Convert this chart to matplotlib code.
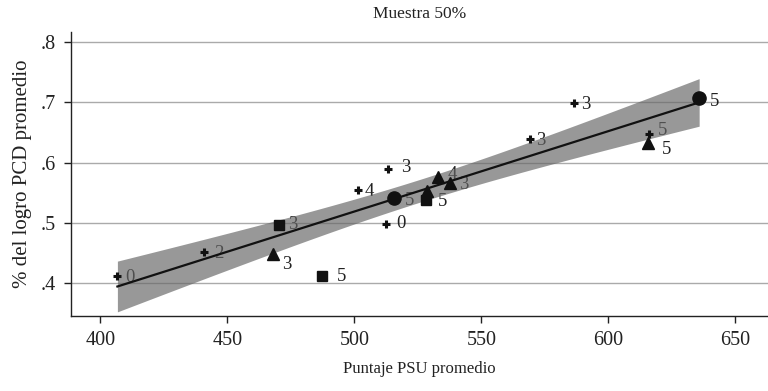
import numpy as np
import matplotlib
matplotlib.use("Agg")
import matplotlib.pyplot as plt

plt.rcParams['font.family'] = ['Liberation Serif', 'DejaVu Serif']

# Data: (PSU score, PCD achievement, marker group, label)
cross_x = [406.7, 440.8, 501.5, 513.1, 512.3, 569.1, 586.6, 616.0]
cross_y = [0.412, 0.452, 0.554, 0.589, 0.499, 0.639, 0.698, 0.648]
cross_lab = ["0", "2", "4", "3", "0", "3", "3", "5"]

tri_x = [467.8, 533.0, 537.6, 528.7, 615.7]
tri_y = [0.448, 0.576, 0.566, 0.553, 0.633]
tri_lab = ["3", "4", "3", "", "5"]

sq_x = [470.4, 487.4, 528.2]
sq_y = [0.497, 0.412, 0.538]
sq_lab = ["3", "5", "5"]

circ_x = [515.7, 635.7]
circ_y = [0.541, 0.706]
circ_lab = ["5", "5"]

x_ticks = [400, 450, 500, 550, 600, 650]
y_ticks = [0.4, 0.5, 0.6, 0.7, 0.8]
y_ticklabels = [".4", ".5", ".6", ".7", ".8"]

# label offsets in points (styling)
cross_off = [(9, -1), (11, -1), (8, -1), (13, 1), (11, 0), (8, -1), (8, -1), (10, 2)]
tri_off = [(10, -7), (10, 2), (10, -1), (10, 0), (13, -5)]
sq_off = [(10, 0), (14, 0), (12, -1)]
circ_off = [(11, -2), (11, -2)]

LBL = 13.5

fig = plt.figure(figsize=(7.68, 3.91), dpi=100)
ax = fig.add_axes([0.092, 0.192, 0.908, 0.726])

# Linear fit with 95% CI of the mean
all_x = np.array(cross_x + tri_x + sq_x + circ_x)
all_y = np.array(cross_y + tri_y + sq_y + circ_y)
n = len(all_x)
b, a = np.polyfit(all_x, all_y, 1)
resid = all_y - (a + b * all_x)
s = np.sqrt(np.sum(resid ** 2) / (n - 2))
xm = all_x.mean()
sxx = np.sum((all_x - xm) ** 2)
xs = np.linspace(all_x.min(), all_x.max(), 100)
yhat = a + b * xs
se = s * np.sqrt(1.0 / n + (xs - xm) ** 2 / sxx)
tcrit = 2.131
ax.fill_between(xs, yhat - tcrit * se, yhat + tcrit * se, color='#666666',
                alpha=0.67, linewidth=0, zorder=3)
ax.plot(xs, yhat, color='#111111', lw=1.6, zorder=4)

for xv, yv, lab, off in zip(cross_x, cross_y, cross_lab, cross_off):
    ax.plot(xv, yv, marker='+', ms=6, mew=2.2, color='#111111', ls='none', zorder=5)
    ax.annotate(lab, (xv, yv), xytext=off, textcoords='offset points',
                ha='center', va='center', fontsize=LBL, color='#222222', zorder=2)
for xv, yv, lab, off in zip(tri_x, tri_y, tri_lab, tri_off):
    ax.plot(xv, yv, marker='^', ms=8, color='#111111', ls='none', zorder=5)
    ax.annotate(lab, (xv, yv), xytext=off, textcoords='offset points',
                ha='center', va='center', fontsize=LBL, color='#222222', zorder=2)
for xv, yv, lab, off in zip(sq_x, sq_y, sq_lab, sq_off):
    ax.plot(xv, yv, marker='s', ms=7, color='#111111', ls='none', zorder=5)
    ax.annotate(lab, (xv, yv), xytext=off, textcoords='offset points',
                ha='center', va='center', fontsize=LBL, color='#222222', zorder=2)
for xv, yv, lab, off in zip(circ_x, circ_y, circ_lab, circ_off):
    ax.plot(xv, yv, marker='o', ms=9.5, color='#111111', ls='none', zorder=5)
    ax.annotate(lab, (xv, yv), xytext=off, textcoords='offset points',
                ha='center', va='center', fontsize=LBL, color='#222222', zorder=2)

ax.set_xlim(388.3, 662.8)
ax.set_ylim(0.346, 0.816)
ax.set_xticks(x_ticks)
ax.set_yticks(y_ticks)
ax.set_yticklabels(y_ticklabels)
ax.tick_params(axis='both', labelsize=14.5, length=5, width=1, color='#222222',
               labelcolor='#222222', direction='out', pad=6)
ax.grid(axis='y', color='#aaaaaa', lw=1)
ax.set_axisbelow(True)
for side in ['top', 'right']:
    ax.spines[side].set_visible(False)
for side in ['left', 'bottom']:
    ax.spines[side].set_color('#222222')
    ax.spines[side].set_linewidth(1.0)

ax.set_title("Muestra 50%", fontsize=12.5, color='#222222', pad=10)
ax.set_xlabel("Puntaje PSU promedio", fontsize=12, color='#222222', labelpad=8)
ax.set_ylabel("% del logro PCD promedio", fontsize=15, color='#222222', labelpad=6)

fig.savefig("out.png", dpi=100)
